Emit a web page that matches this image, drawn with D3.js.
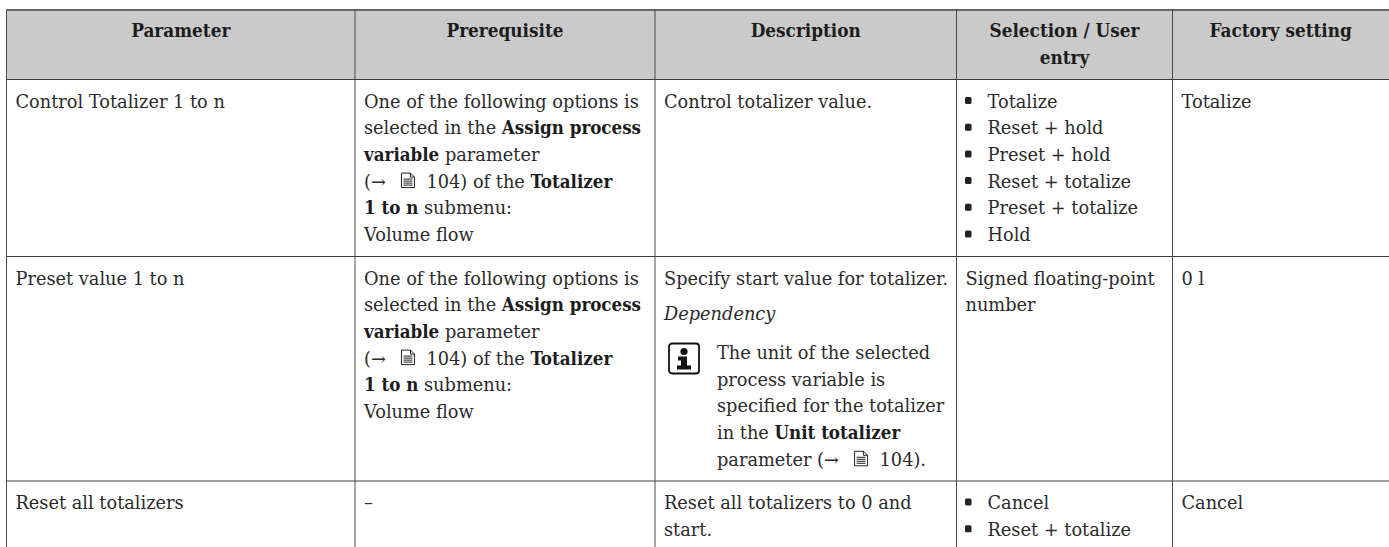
<!DOCTYPE html>
<html>
<head>
<meta charset="utf-8">
<script src="https://cdn.jsdelivr.net/npm/d3@7"></script>
<style>
    html, body { margin: 0; padding: 0; background: #fff; overflow: hidden; }
    text { font-family: "DejaVu Serif", serif; font-size: 17.75px; fill: #2a2a2a; }
    text.strong { font-family: "DejaVu Serif Condensed", "DejaVu Serif", serif; font-weight: bold; font-size: 18.6px; fill: #1c1c1c; }
    text.head { font-family: "DejaVu Serif Condensed", "DejaVu Serif", serif; font-weight: bold; font-size: 18.8px; fill: #1c1c1c; }
</style>
</head>
<body>
<div id="table"></div>
<script>
// Table contents. **x** is bold, __x__ is italic, {doc} is the page symbol
var columns = ['Parameter', 'Prerequisite', 'Description', 'Selection / User|entry', 'Factory setting'];
var prerequisite = [
    'One of the following options is',
    'selected in the **Assign process**',
    '**variable** parameter',
    '(→ {doc}104) of the **Totalizer**',
    '**1 to n** submenu:',
    'Volume flow'
];
var parameters = ['Control Totalizer 1 to n', 'Preset value 1 to n', 'Reset all totalizers'];
var prerequisites = [prerequisite, prerequisite, ['–']];
var descriptions = [
    ['Control totalizer value.'],
    ['Specify start value for totalizer.'],
    ['Reset all totalizers to 0 and', 'start.']
];
var dependencyLabel = '__Dependency__';
var noteLines = [
    'The unit of the selected',
    'process variable is',
    'specified for the totalizer',
    'in the **Unit totalizer**',
    'parameter (→ {doc}104).'
];
var selections = [
    ['Totalize', 'Reset + hold', 'Preset + hold', 'Reset + totalize', 'Preset + totalize', 'Hold'],
    ['Signed floating-point', 'number'],
    ['Cancel', 'Reset + totalize']
];
var selectionIsList = [true, false, true];
var factory = ['Totalize', '0 l', 'Cancel'];

// Layout
var width = 1389, height = 547;
var colEdges = [6.5, 355, 655, 956.5, 1172.5, 1389];
var rowEdges = [10, 79.5, 256.5, 481, 547];
var lineStep = 26.7;
var firstBaseline = 28;
var padX = 9;

var svg = d3.select('#table').append('svg')
    .attr('width', width)
    .attr('height', height)
    .style('display', 'block');

var x = d3.scaleOrdinal().domain(d3.range(colEdges.length)).range(colEdges);
var y = d3.scaleOrdinal().domain(d3.range(rowEdges.length)).range(rowEdges);

// Header background
svg.append('rect')
    .attr('x', x(0))
    .attr('y', y(0))
    .attr('width', width - x(0))
    .attr('height', y(1) - y(0))
    .attr('fill', '#cacaca');

// Draw the page symbol and return the room it takes on the line
function drawDoc(g, px, baseline) {
    var doc = g.append('g').attr('transform', 'translate(' + (px + 9) + ',' + (baseline - 15) + ')');
    doc.append('path')
        .attr('d', 'M1,0.5 H10 L14,4.5 V15 H1 Z M10,0.5 V4.5 H14')
        .attr('fill', 'none')
        .attr('stroke', '#222')
        .attr('stroke-width', 1);
    [6.5, 8.5, 10.5, 12.5].forEach(function(ly) {
        doc.append('line')
            .attr('x1', 3).attr('x2', 12)
            .attr('y1', ly).attr('y2', ly)
            .attr('stroke', '#222')
            .attr('stroke-width', 1);
    });
    return 35;
}

// Write one line of marked up text, piece by piece
function writeLine(g, str, px, baseline) {
    var cursor = px;
    str.split(/(\*\*.*?\*\*|__.*?__|\{doc\})/).filter(function(s) { return s.length; }).forEach(function(part) {
        if(part === '{doc}') {
            cursor += drawDoc(g, cursor, baseline);
            return;
        }
        var bold = part.indexOf('**') === 0, italic = part.indexOf('__') === 0;
        var label = g.append('text')
            .attr('x', cursor)
            .attr('y', baseline)
            .style('white-space', 'pre')
            .attr('font-style', italic ? 'italic' : null)
            .attr('class', bold ? 'strong' : null)
            .text(bold || italic ? part.slice(2, -2) : part);
        cursor += label.node().getComputedTextLength();
    });
}

function writeLines(g, lines, px, top) {
    lines.forEach(function(line, i) {
        writeLine(g, line, px, top + i * lineStep);
    });
}

var cells = svg.append('g');

// Header labels, centred in their column
columns.forEach(function(name, c) {
    name.split('|').forEach(function(part, i) {
        cells.append('text')
            .attr('class', 'head')
            .attr('text-anchor', 'middle')
            .attr('x', (x(c) + x(c + 1)) / 2)
            .attr('y', y(0) + 27 + i * lineStep)
            .text(part);
    });
});

// Body rows
parameters.forEach(function(name, r) {
    var top = y(r + 1) + firstBaseline;
    writeLine(cells, name, x(0) + padX, top);
    writeLines(cells, prerequisites[r], x(1) + padX, top);
    writeLines(cells, descriptions[r], x(2) + padX, top);
    if(selectionIsList[r]) {
        selections[r].forEach(function(item, i) {
            var b = top + i * lineStep;
            cells.append('rect')
                .attr('x', x(3) + 8.5)
                .attr('y', b - 10.5)
                .attr('width', 6.5)
                .attr('height', 7)
                .attr('rx', 1.5)
                .attr('fill', '#222');
            writeLine(cells, item, x(3) + 31, b);
        });
    } else {
        writeLines(cells, selections[r], x(3) + padX, top);
    }
    writeLine(cells, factory[r], x(4) + padX, top);
});

// Dependency block of the second row
var rowTwo = y(2) + firstBaseline;
writeLine(cells, dependencyLabel, x(2) + padX, rowTwo + 35.5);
writeLines(cells, noteLines, x(2) + 62, rowTwo + 74.5);

// Information symbol
var info = cells.append('g').attr('transform', 'translate(' + (x(2) + 14) + ',' + (rowTwo + 59) + ')');
info.append('rect')
    .attr('x', 0).attr('y', 0)
    .attr('width', 30).attr('height', 30)
    .attr('rx', 3)
    .attr('fill', 'none')
    .attr('stroke', '#111')
    .attr('stroke-width', 1.8);
info.append('circle').attr('cx', 15).attr('cy', 8).attr('r', 3.6).attr('fill', '#111');
info.append('path')
    .attr('d', 'M9,13 H18 V22 H22 V26 H8 V22 H12 V17 H9 Z')
    .attr('fill', '#111');

// Grid lines
var grid = svg.append('g');
rowEdges.slice(0, 4).forEach(function(edge, i) {
    grid.append('line')
        .attr('x1', x(0)).attr('x2', width)
        .attr('y1', y(i)).attr('y2', y(i))
        .attr('stroke', i === 0 ? '#666' : '#3c3c3c')
        .attr('stroke-width', i === 0 ? 2 : 1);
});
colEdges.slice(0, 5).forEach(function(edge, i) {
    grid.append('line')
        .attr('x1', x(i)).attr('x2', x(i))
        .attr('y1', y(0)).attr('y2', height)
        .attr('stroke', '#4a4a4a')
        .attr('stroke-width', 1);
});
</script>
</body>
</html>
